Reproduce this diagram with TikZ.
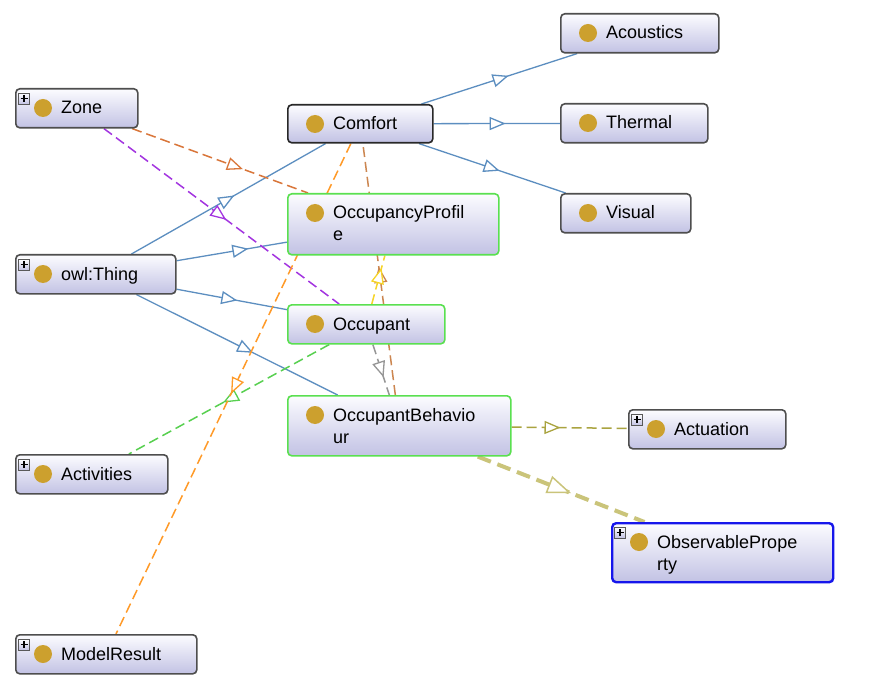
\documentclass[tikz,border=0pt]{standalone}
\usepackage{fontspec}
\setmainfont{Liberation Sans}
\usetikzlibrary{arrows.meta,decorations.markings,backgrounds}

\definecolor{dotcol}{RGB}{204,160,46}
\definecolor{boxtop}{RGB}{252,252,255}
\definecolor{boxbot}{RGB}{194,194,228}
\definecolor{boxline}{RGB}{78,78,78}
\definecolor{selline}{RGB}{40,40,40}
\definecolor{selgreen}{RGB}{90,224,80}
\definecolor{selblue}{RGB}{22,22,235}
\definecolor{isablue}{RGB}{92,142,192}
\definecolor{zoneorange}{RGB}{217,118,58}
\definecolor{zonepurple}{RGB}{163,53,224}
\definecolor{actgreen}{RGB}{88,208,80}
\definecolor{modelorange}{RGB}{255,154,40}
\definecolor{behbrown}{RGB}{204,134,80}
\definecolor{profyellow}{RGB}{246,212,40}
\definecolor{occgray}{RGB}{150,150,150}
\definecolor{actolive}{RGB}{170,164,64}
\definecolor{obskhaki}{RGB}{202,196,122}

\tikzset{
  clsbox/.style={draw=boxline, line width=1.6pt, rounded corners=4pt,
    top color=boxtop, bottom color=boxbot, inner sep=0pt},
  greenbox/.style={draw=selgreen},
  bluebox/.style={draw=selblue, line width=2.4pt},
  darkbox/.style={draw=selline},
  plainbox/.style={},
  clstext/.style={inner sep=0pt, font=\fontsize{18}{22}\selectfont},
  midtip/.style={postaction={decorate}, decoration={markings,
    mark=at position #1 with {\arrow{Triangle[length=16pt,width=13pt,fill=white,line width=1.3pt]}}}},
  bigtip/.style={postaction={decorate}, decoration={markings,
    mark=at position #1 with {\arrow{Triangle[length=24pt,width=18pt,fill=white,line width=1.5pt]}}}},
  isa/.style={draw=isablue, line width=1.3pt},
  rel/.style={line width=1.5pt, dash pattern=on 10pt off 5pt},
}

% class box: name, left, top, width, height, border style, text
\newcommand\classbox[7]{%
  \node[clsbox,#6,anchor=north west,minimum width=#4pt,minimum height=#5pt] (#1) at (#2,#3) {};
  \fill[dotcol] (#2+28,#3+20) circle (9pt);
  \node[clstext,anchor=base west] (#1-label) at (#2+46,#3+26) {\begin{tabular}[t]{@{}l@{}}#7\end{tabular}};
}
% expand marker in the top left corner of a box
\newcommand\expandmark[2]{%
  \draw[line width=0.8pt, draw=gray!70!black, top color=white, bottom color=boxbot]
    (#1+3.5,#2+5) rectangle (#1+14.5,#2+16);
  \draw[line width=1.4pt] (#1+5.5,#2+10.5) -- (#1+12.5,#2+10.5)
    (#1+9,#2+7) -- (#1+9,#2+14);
}

\begin{document}
\begin{tikzpicture}[x=1pt,y=-1pt]
\useasboundingbox (0,0) rectangle (874,692);

\classbox{zone}{15}{88}{122}{39}{plainbox}{Zone}
\expandmark{15}{88}
\classbox{thing}{15}{254}{160}{39}{plainbox}{owl:Thing}
\expandmark{15}{254}
\classbox{activities}{15}{454}{152}{39}{plainbox}{Activities}
\expandmark{15}{454}
\classbox{modelresult}{15}{634}{181}{39}{plainbox}{ModelResult}
\expandmark{15}{634}

\classbox{comfort}{287}{104}{145}{38}{darkbox}{Comfort}
\classbox{occprofile}{287}{193}{211}{61}{greenbox}{OccupancyProfil\\e}
\classbox{occupant}{287}{304}{157}{39}{greenbox}{Occupant}
\classbox{occbehaviour}{287}{395}{223}{60}{greenbox}{OccupantBehavio\\ur}

\classbox{acoustics}{560}{13}{158}{39}{plainbox}{Acoustics}
\classbox{thermal}{560}{103}{147}{39}{plainbox}{Thermal}
\classbox{visual}{560}{193}{130}{39}{plainbox}{Visual}

\classbox{actuation}{628}{409}{157}{39}{plainbox}{Actuation}
\expandmark{628}{409}
\classbox{obsproperty}{611}{522}{221}{59}{bluebox}{ObservablePrope\\rty}
\expandmark{611}{522}

\begin{scope}[on background layer]
  \fill[white] (0,0) rectangle (874,692);
  % subclass links
  \draw[isa, midtip=0.56] (comfort) -- (acoustics);
  \draw[isa, midtip=0.57] (comfort) -- (thermal);
  \draw[isa, midtip=0.55] (comfort) -- (visual);
  \draw[isa, midtip=0.53] (thing) -- (comfort);
  \draw[isa, midtip=0.65] (thing) -- (occprofile);
  \draw[isa, midtip=0.55] (thing) -- (occupant);
  \draw[isa, midtip=0.58] (thing) -- (occbehaviour);
  % object property links
  \draw[rel, draw=zoneorange, midtip=0.63] (zone) -- (occprofile);
  \draw[rel, draw=zonepurple, midtip=0.52] (zone) -- (occupant);
  \draw[rel, draw=actgreen, midtip=0.53] (occupant) -- (activities);
  \draw[rel, draw=modelorange, midtip=0.51] (comfort) -- (modelresult);
  \draw[rel, draw=behbrown, midtip=0.51] (occbehaviour) -- (comfort);
  \draw[rel, draw=profyellow, midtip=0.75] (occupant) -- (occprofile);
  \draw[rel, draw=occgray, midtip=0.65] (occupant) -- (occbehaviour);
  \draw[rel, draw=actolive, midtip=0.42] (occbehaviour) -- (actuation);
  \draw[draw=obskhaki, line width=4pt, dash pattern=on 14pt off 7pt, bigtip=0.56]
    (occbehaviour) -- (obsproperty);
\end{scope}
\end{tikzpicture}
\end{document}
